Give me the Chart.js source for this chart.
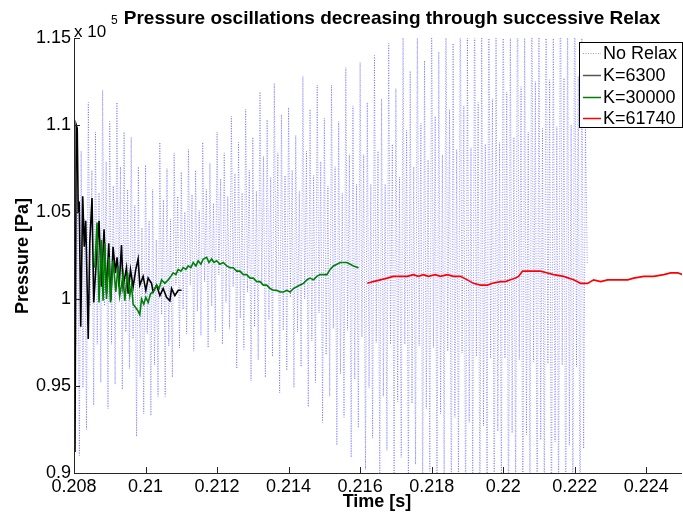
<!DOCTYPE html>
<html><head><meta charset="utf-8">
<script src="https://cdn.jsdelivr.net/npm/chart.js@4/dist/chart.umd.min.js"></script>
<style>html,body{margin:0;padding:0;background:#fff}#wrap{width:683px;height:515px}</style>
</head><body><div id="wrap"><canvas id="c" width="683" height="515"></canvas></div>
<script>
// ---- text ----
const chartTitle = 'Pressure oscillations decreasing through successive Relax';
const xTitle = 'Time [s]';
const yTitle = 'Pressure [Pa]';
const seriesNames = ['No Relax', 'K=6300', 'K=30000', 'K=61740'];
const xTicks = [0.208, 0.210, 0.212, 0.214, 0.216, 0.218, 0.220, 0.222, 0.224];
const xTickLabels = ['0.208', '0.21', '0.212', '0.214', '0.216', '0.218', '0.22', '0.222', '0.224'];
const yTicks = [0.9, 0.95, 1.0, 1.05, 1.1, 1.15];
const yTickLabels = ['0.9', '0.95', '1', '1.05', '1.1', '1.15'];
const yMultiplier = '5'; // pressure values below are in units of 10^5 Pa

// ---- No Relax (oscillation extremes, 10^5 Pa) ----
const noRelaxTime = [
0.20800,0.20805,0.20810,0.20815,0.20820,0.20825,0.20830,0.20835,0.20840,0.20845,0.20850,0.20855,0.20860,0.20865,0.20870,0.20875,0.20880,0.20885,0.20890,0.20895,
0.20900,0.20905,0.20910,0.20915,0.20920,0.20925,0.20930,0.20935,0.20940,0.20945,0.20950,0.20955,0.20960,0.20965,0.20970,0.20975,0.20980,0.20985,0.20990,0.20995,
0.21000,0.21005,0.21010,0.21015,0.21020,0.21025,0.21030,0.21035,0.21040,0.21045,0.21050,0.21055,0.21060,0.21065,0.21070,0.21075,0.21080,0.21085,0.21090,0.21095,
0.21100,0.21105,0.21110,0.21115,0.21120,0.21125,0.21130,0.21135,0.21140,0.21145,0.21150,0.21155,0.21160,0.21165,0.21170,0.21175,0.21180,0.21185,0.21190,0.21195,
0.21200,0.21205,0.21210,0.21215,0.21220,0.21225,0.21230,0.21235,0.21240,0.21245,0.21250,0.21255,0.21260,0.21265,0.21270,0.21275,0.21280,0.21285,0.21290,0.21295,
0.21300,0.21305,0.21310,0.21315,0.21320,0.21325,0.21330,0.21335,0.21340,0.21345,0.21350,0.21355,0.21360,0.21365,0.21370,0.21375,0.21380,0.21385,0.21390,0.21395,
0.21400,0.21405,0.21410,0.21415,0.21420,0.21425,0.21430,0.21435,0.21440,0.21445,0.21450,0.21455,0.21460,0.21465,0.21470,0.21475,0.21480,0.21485,0.21490,0.21495,
0.21500,0.21505,0.21510,0.21515,0.21520,0.21525,0.21530,0.21535,0.21540,0.21545,0.21550,0.21555,0.21560,0.21565,0.21570,0.21575,0.21580,0.21585,0.21590,0.21595,
0.21600,0.21605,0.21610,0.21615,0.21620,0.21625,0.21630,0.21635,0.21640,0.21645,0.21650,0.21655,0.21660,0.21665,0.21670,0.21675,0.21680,0.21685,0.21690,0.21695,
0.21700,0.21705,0.21710,0.21715,0.21720,0.21725,0.21730,0.21735,0.21740,0.21745,0.21750,0.21755,0.21760,0.21765,0.21770,0.21775,0.21780,0.21785,0.21790,0.21795,
0.21800,0.21805,0.21810,0.21815,0.21820,0.21825,0.21830,0.21835,0.21840,0.21845,0.21850,0.21855,0.21860,0.21865,0.21870,0.21875,0.21880,0.21885,0.21890,0.21895,
0.21900,0.21905,0.21910,0.21915,0.21920,0.21925,0.21930,0.21935,0.21940,0.21945,0.21950,0.21955,0.21960,0.21965,0.21970,0.21975,0.21980,0.21985,0.21990,0.21995,
0.22000,0.22005,0.22010,0.22015,0.22020,0.22025,0.22030,0.22035,0.22040,0.22045,0.22050,0.22055,0.22060,0.22065,0.22070,0.22075,0.22080,0.22085,0.22090,0.22095,
0.22100,0.22105,0.22110,0.22115,0.22120,0.22125,0.22130,0.22135,0.22140,0.22145,0.22150,0.22155,0.22160,0.22165,0.22170,0.22175,0.22180,0.22185,0.22190,0.22195,
0.22200,0.22205,0.22210,0.22215,0.22220,0.22225,0.22230,0.22235];
const noRelaxP = [
1.104,0.973,1.060,0.910,1.085,0.949,1.046,0.925,  1.113,0.996,1.074,0.939,1.096,0.974,1.061,0.952,
1.120,0.996,1.079,0.937,1.102,0.974,1.065,0.951,  1.113,1.002,1.076,0.948,1.096,0.981,1.063,0.960,
1.093,0.977,1.054,0.921,1.076,0.955,1.041,0.934,  1.077,0.980,1.045,0.933,1.063,0.962,1.034,0.944,
1.090,0.991,1.057,0.944,1.075,0.973,1.046,0.955,  1.084,1.008,1.059,0.972,1.073,0.994,1.050,0.980,
1.086,1.008,1.060,0.970,1.074,0.993,1.051,0.979,  1.090,1.010,1.063,0.972,1.078,0.996,1.055,0.981,
1.096,1.014,1.069,0.974,1.084,0.998,1.059,0.983,  1.105,1.007,1.072,0.960,1.090,0.989,1.061,0.971,
1.109,1.004,1.074,0.953,1.093,0.984,1.062,0.965,  1.119,1.008,1.082,0.955,1.103,0.988,1.070,0.967,
1.124,1.004,1.084,0.946,1.106,0.982,1.071,0.959,  1.110,1.001,1.074,0.949,1.094,0.981,1.062,0.961,
1.128,1.000,1.085,0.938,1.109,0.976,1.071,0.952,  1.123,0.992,1.079,0.929,1.104,0.968,1.065,0.944,
1.123,0.983,1.076,0.916,1.102,0.957,1.061,0.932,  1.133,0.982,1.083,0.909,1.111,0.954,1.066,0.926,
1.136,0.978,1.083,0.902,1.113,0.949,1.066,0.920,  1.140,0.975,1.085,0.895,1.115,0.944,1.066,0.913,
1.147,0.974,1.089,0.890,1.121,0.941,1.070,0.909,  1.158,0.974,1.097,0.885,1.131,0.940,1.076,0.905,
1.165,0.973,1.101,0.880,1.137,0.937,1.080,0.901,  1.172,0.972,1.105,0.875,1.142,0.934,1.083,0.897,
1.178,0.970,1.109,0.870,1.147,0.932,1.086,0.893,  1.182,0.969,1.111,0.866,1.150,0.929,1.087,0.890,
1.186,0.967,1.113,0.862,1.154,0.927,1.089,0.886,  1.190,0.966,1.115,0.858,1.157,0.924,1.090,0.883,
1.195,0.966,1.119,0.855,1.161,0.923,1.093,0.881,  1.200,0.965,1.122,0.852,1.165,0.922,1.096,0.878,
1.205,0.964,1.125,0.848,1.169,0.919,1.098,0.875,  1.208,0.963,1.126,0.845,1.172,0.918,1.099,0.872,
1.210,0.962,1.127,0.842,1.173,0.916,1.100,0.870,  1.212,0.961,1.128,0.840,1.175,0.914,1.100,1.020];

// ---- K=6300 ----
const k6300Time = [0.208006,0.208028,0.208062,0.208090,0.208118,0.208146,0.208188,0.208244,0.208286,0.208328,
0.208398,0.208440,0.208504,0.208552,0.208627,0.208700,0.208767,0.208840,0.208908,0.208972,
0.209028,0.209092,0.209160,0.209204,0.209261,0.209328,0.209373,0.209468,0.209513,0.209580,
0.209653,0.209728,0.209793,0.209840,0.209933,0.210008,0.210073,0.210168,0.210213,0.210308,
0.210401,0.210493,0.210588,0.210681,0.210728,0.210821,0.210913,0.211008];
const k6300P = [0.970,0.912,1.100,1.098,1.050,1.056,0.984,1.059,1.030,1.045,
0.977,1.032,1.058,0.998,1.023,1.045,1.007,1.040,1.003,1.032,
0.999,1.030,1.015,1.024,1.007,1.031,1.007,1.018,1.003,1.017,
1.007,1.017,1.023,1.008,1.013,1.005,1.012,1.009,1.004,1.008,
1.002,1.006,1.001,0.999,1.006,1.002,1.005,1.005];

// ---- K=30000 ----
const k30000Time = [0.208580,0.208644,0.208700,0.208767,0.208812,0.208860,0.208908,0.208980,0.209020,0.209092,
0.209168,0.209232,0.209280,0.209373,0.209420,0.209496,0.209560,0.209608,0.209653,0.209728,
0.209793,0.209840,0.209888,0.209952,0.210008,0.210073,0.210140,0.210213,0.210308,0.210381,
0.210448,0.210541,0.210633,0.210709,0.210773,0.210849,0.210913,0.210989,0.211053,0.211129,
0.211193,0.211269,0.211333,0.211409,0.211473,0.211549,0.211613,0.211709,0.211773,0.211849,
0.211913,0.211989,0.212081,0.212174,0.212269,0.212361,0.212454,0.212549,0.212641,0.212734,
0.212829,0.212922,0.213014,0.213109,0.213202,0.213294,0.213389,0.213482,0.213574,0.213669,
0.213762,0.213854,0.213950,0.214042,0.214134,0.214230,0.214322,0.214415,0.214510,0.214602,
0.214695,0.214790,0.214882,0.214975,0.215070,0.215162,0.215255,0.215350,0.215443,0.215535,
0.215630,0.215723,0.215815,0.215955];
const k30000P = [1.018,1.044,0.998,1.034,0.999,1.032,1.000,1.024,0.998,1.022,
1.004,1.019,1.002,1.014,0.999,1.015,1.002,1.008,0.997,0.995,
0.993,0.991,1.000,0.997,1.001,0.998,1.003,1.004,1.008,1.006,
1.011,1.009,1.011,1.013,1.015,1.014,1.017,1.016,1.018,1.017,
1.019,1.018,1.021,1.019,1.022,1.020,1.023,1.024,1.021,1.023,
1.021,1.022,1.020,1.021,1.019,1.018,1.018,1.016,1.016,1.014,
1.014,1.012,1.012,1.010,1.010,1.008,1.008,1.006,1.005,1.005,
1.004,1.004,1.005,1.004,1.006,1.007,1.008,1.009,1.011,1.012,
1.011,1.013,1.014,1.014,1.014,1.017,1.019,1.020,1.021,1.021,
1.021,1.020,1.019,1.018];

// ---- K=61740 ----
const k61740Time = [0.216199,0.216367,0.216563,0.216759,0.216927,0.217123,0.217319,0.217487,0.217627,0.217767,
0.217907,0.218104,0.218244,0.218440,0.218608,0.218804,0.219000,0.219168,0.219364,0.219560,
0.219700,0.219924,0.220064,0.220204,0.220344,0.220429,0.220541,0.220681,0.220849,0.221045,
0.221241,0.221409,0.221689,0.221969,0.222165,0.222361,0.222529,0.222725,0.222921,0.223090,
0.223286,0.223482,0.223650,0.223930,0.224210,0.224490,0.224686,0.224882,0.225022];
const k61740P = [1.009,1.010,1.011,1.012,1.013,1.013,1.013,1.014,1.013,1.014,
1.013,1.014,1.013,1.014,1.013,1.013,1.011,1.009,1.008,1.008,
1.009,1.010,1.010,1.011,1.012,1.013,1.016,1.016,1.016,1.016,
1.015,1.014,1.013,1.011,1.009,1.009,1.011,1.010,1.011,1.011,
1.011,1.011,1.012,1.013,1.013,1.014,1.015,1.015,1.014];

const FONT = 'Liberation Sans, Arial, Helvetica, sans-serif';
const toPts = (t, p) => t.map((v, i) => ({x: v, y: p[i]}));

const seriesStyles = [
  {color: 'rgba(0,0,255,0.42)', width: 1, dash: [1, 1.5]},
  {color: '#000000', width: 1.6, dash: []},
  {color: '#008000', width: 1.6, dash: []},
  {color: '#ff0000', width: 1.6, dash: []}
];
const seriesData = [toPts(noRelaxTime, noRelaxP), toPts(k6300Time, k6300P), toPts(k30000Time, k30000P), toPts(k61740Time, k61740P)];

const deco = {
  id: 'deco',
  afterDatasetsDraw(chart) {
    const {ctx, chartArea: a, scales: {x, y}} = chart;
    ctx.save();
    ctx.strokeStyle = '#262626';
    ctx.lineWidth = 1;
    ctx.beginPath();
    ctx.moveTo(Math.round(a.left) + 0.5, a.top);
    ctx.lineTo(Math.round(a.left) + 0.5, Math.round(a.bottom) + 0.5);
    ctx.lineTo(a.right, Math.round(a.bottom) + 0.5);
    xTicks.forEach(v => { const px = Math.round(x.getPixelForValue(v)) + 0.5; ctx.moveTo(px, a.bottom); ctx.lineTo(px, a.bottom - 6); });
    yTicks.forEach(v => { const py = Math.round(y.getPixelForValue(v)) + 0.5; ctx.moveTo(a.left, py); ctx.lineTo(a.left + 6, py); });
    ctx.stroke();

    // legend
    const lx = 579, ly = 42, lw = 103, lh = 85;
    ctx.fillStyle = '#fff';
    ctx.fillRect(lx, ly, lw, lh);
    ctx.strokeStyle = '#000';
    ctx.strokeRect(lx + 0.5, ly + 0.5, lw, lh);
    const rows = [53, 75, 97, 118];
    ctx.font = '18px ' + FONT;
    ctx.textBaseline = 'middle';
    ctx.textAlign = 'left';
    seriesNames.forEach((n, i) => {
      const st = seriesStyles[i];
      ctx.beginPath();
      ctx.setLineDash(st.dash);
      ctx.strokeStyle = i === 1 ? '#555' : st.color;
      ctx.lineWidth = i === 0 ? 1 : 1.5;
      ctx.moveTo(583, rows[i] + 0.5); ctx.lineTo(601, rows[i] + 0.5);
      ctx.stroke();
      ctx.setLineDash([]);
      ctx.fillStyle = '#000';
      ctx.fillText(n, 603, rows[i] + 1);
    });
    ctx.restore();
  },
  afterDraw(chart) {
    const {ctx} = chart;
    ctx.save();
    ctx.fillStyle = '#000';
    ctx.textAlign = 'center';
    ctx.textBaseline = 'alphabetic';
    ctx.font = 'bold 19px ' + FONT;
    ctx.fillText(chartTitle, 392, 24);
    ctx.font = 'bold 18px ' + FONT;
    ctx.fillText(xTitle, 377, 507);
    ctx.save();
    ctx.translate(28, 256);
    ctx.rotate(-Math.PI / 2);
    ctx.fillText(yTitle, 0, 0);
    ctx.restore();
    ctx.textAlign = 'left';
    ctx.font = '17px ' + FONT;
    ctx.fillText('x 10', 74, 37);
    ctx.font = '12px ' + FONT;
    ctx.fillText(yMultiplier, 111, 24);
    ctx.restore();
  }
};

new Chart(document.getElementById('c'), {
  type: 'line',
  data: {
    datasets: seriesNames.map((n, i) => ({
      label: n,
      data: seriesData[i],
      borderColor: seriesStyles[i].color,
      borderWidth: seriesStyles[i].width,
      borderDash: seriesStyles[i].dash,
      pointRadius: 0,
      tension: 0,
      fill: false,
      order: 4 - i
    }))
  },
  options: {
    responsive: false,
    animation: false,
    devicePixelRatio: 1,
    layout: {padding: {top: 38, right: 1, left: 0, bottom: 0}},
    plugins: {legend: {display: false}, title: {display: false}, tooltip: {enabled: false}},
    scales: {
      x: {
        type: 'linear', min: 0.208, max: 0.225,
        afterBuildTicks: s => { s.ticks = xTicks.map(v => ({value: v})); },
        afterFit: s => { s.height = 42; },
        ticks: {callback: (v, i) => xTickLabels[i], font: {family: FONT, size: 18}, color: '#000', padding: 3, maxRotation: 0, autoSkip: false},
        grid: {display: false, drawTicks: false},
        border: {display: false}
      },
      y: {
        type: 'linear', min: 0.9, max: 1.15,
        afterBuildTicks: s => { s.ticks = yTicks.map(v => ({value: v})); },
        afterFit: s => { s.width = 74; },
        ticks: {callback: (v, i) => yTickLabels[i], font: {family: FONT, size: 18}, color: '#000', padding: 3, autoSkip: false},
        grid: {display: false, drawTicks: false},
        border: {display: false}
      }
    }
  },
  plugins: [deco]
});
</script></body></html>
